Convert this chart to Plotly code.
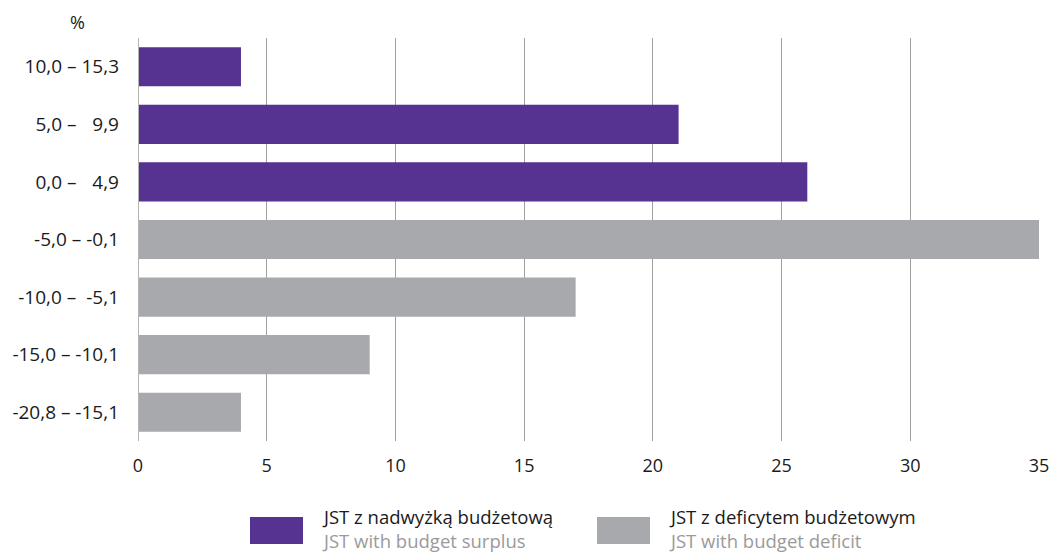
import plotly.graph_objects as go

# Balance ranges (% of revenue), top to bottom
categories = ["10,0 – 15,3", "5,0 –\u2007\u20089,9", "0,0 –\u2007\u20084,9", "-5,0 – -0,1",
              "-10,0 –\u2008 -5,1", "-15,0 – -10,1", "-20,8 – -15,1"]
values = [4, 21, 26, 35, 17, 9, 4]
surplus = [True, True, True, False, False, False, False]

x_ticks = [0, 5, 10, 15, 20, 25, 30, 35]

PURPLE = "#563291"
GREY = "#a7a9ac"
FONT = "Open Sans"
TXT = "#1a1a1a"

colors = [PURPLE if s else GREY for s in surplus]

fig = go.Figure()
fig.add_trace(go.Bar(
    x=values,
    y=categories,
    orientation="h",
    marker=dict(color=colors, line=dict(width=0)),
    width=0.68,
    showlegend=False,
    hoverinfo="x+y",
))

fig.update_layout(
    width=1052,
    height=552,
    margin=dict(l=138, r=13, t=38, b=111),
    paper_bgcolor="white",
    plot_bgcolor="white",
    font=dict(family=FONT, size=17, color=TXT),
)

fig.update_xaxes(
    range=[0, 35],
    tickvals=x_ticks,
    ticktext=[str(t) for t in x_ticks],
    showgrid=True,
    gridcolor="#a0a0a0",
    gridwidth=1,
    zeroline=False,
    showline=False,
    ticks="",
    ticklabelstandoff=12,
    tickfont=dict(size=18),
    automargin=False,
    fixedrange=True,
)

fig.update_yaxes(
    categoryorder="array",
    categoryarray=categories[::-1],
    range=[-0.5, 6.5],
    showgrid=False,
    zeroline=False,
    showline=False,
    ticks="",
    ticklabelstandoff=18,
    tickfont=dict(size=19),
    automargin=False,
    fixedrange=True,
)

# zero line on the left edge of the plot
fig.add_shape(type="line", xref="x", yref="paper", x0=0, x1=0, y0=0, y1=1,
              line=dict(color="#b4b4b4", width=2), layer="above")

# plot-area geometry in pixels, used to place the unit label and legend
PX0, PW, PY0, PH = 138, 901, 441, 403

# unit label
fig.add_annotation(text="%", xref="paper", yref="paper", x=(87 - PX0) / PW, y=1.0,
                   xanchor="right", yanchor="bottom", yshift=2, showarrow=False,
                   font=dict(size=18, family=FONT, color=TXT))

# legend drawn below the chart: Polish name with English translation underneath
legend_items = [
    ("JST z nadwyżką budżetową", "JST with budget surplus", PURPLE, 250),
    ("JST z deficytem budżetowym", "JST with budget deficit", GREY, 597),
]
for pl, en, col, px in legend_items:
    fig.add_shape(type="rect", xref="paper", yref="paper",
                  x0=(px - PX0) / PW, x1=(px + 53 - PX0) / PW,
                  y0=(PY0 - 544) / PH, y1=(PY0 - 517) / PH,
                  fillcolor=col, line=dict(width=0))
    fig.add_annotation(text=f"{pl}<br><span style='color:#9a9a9a'>{en}</span>",
                       xref="paper", yref="paper", align="left",
                       x=(px + 70 - PX0) / PW, y=(PY0 - 528) / PH,
                       xanchor="left", yanchor="middle", showarrow=False,
                       font=dict(size=18.5, family=FONT, color=TXT))

fig.write_html("out.html")
